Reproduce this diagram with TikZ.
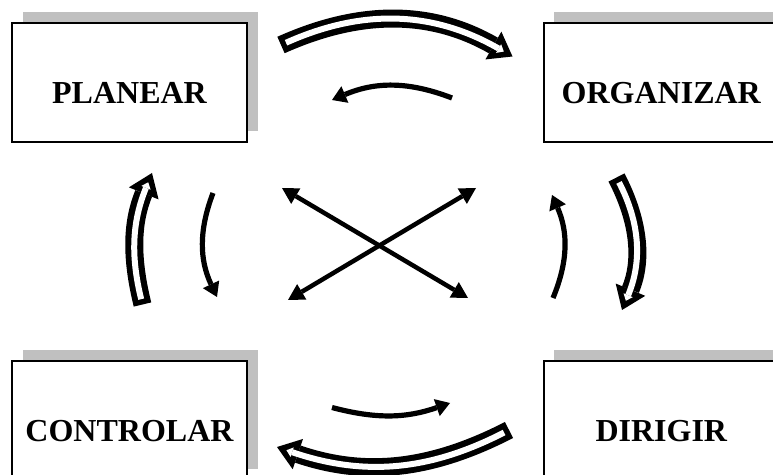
\documentclass[tikz,border=0pt]{standalone}
\usepackage{fontspec}
\setmainfont{Liberation Serif}
\usetikzlibrary{positioning, arrows.meta, shadows}
\definecolor{shadowgray}{RGB}{192,192,192}

\begin{document}
\begin{tikzpicture}[
    x=1pt, y=1pt,
    node distance=217pt and 295pt,
    box/.style={rectangle, draw=black, line width=1.8pt, fill=white, minimum width=235pt, minimum height=119pt, inner sep=0pt, text height=42pt, text depth=0pt, font=\fontsize{32}{36}\selectfont\bfseries, drop shadow={shadow xshift=10.5pt, shadow yshift=11pt, fill=shadowgray, opacity=1}},
    hollowarrow/.style={line width=18pt, -{Triangle[length=22pt, width=32pt, line width=0pt]}, postaction={draw=white, line width=6pt, shorten <=5.5pt, shorten >=10pt, -{Triangle[length=6pt, width=10pt, line width=0pt]}}},
    solidarrow/.style={line width=5.2pt, -{Triangle[length=14pt, width=18pt, line width=0pt]}},
    crossarrow/.style={line width=4.5pt, {Triangle[length=16pt, width=18pt, line width=0pt]}-{Triangle[length=16pt, width=18pt, line width=0pt]}}
]
    \useasboundingbox (0,0) rectangle (773,474);

    % the four boxes
    \node[box] (plan) at (129.5,391.5) {PLANEAR};
    \node[box, right=of plan] (org) {ORGANIZAR};
    \node[box, below=of plan] (ctrl) {CONTROLAR};
    \node[box, below=of org] (dir) {DIRIGIR};

    % end points of the arrows
    \coordinate (po1) at (281,429);
    \coordinate (po2) at (512.5,417.5);
    \coordinate (op1) at (452,376);
    \coordinate (op2) at (332,374);
    \coordinate (od1) at (616.5,296.5);
    \coordinate (od2) at (622,164);
    \coordinate (do1) at (553,176);
    \coordinate (do2) at (552,279);
    \coordinate (dc1) at (509,44);
    \coordinate (dc2) at (277,27);
    \coordinate (cd1) at (332,66.5);
    \coordinate (cd2) at (450,71);
    \coordinate (cp1) at (142.5,169.5);
    \coordinate (cp2) at (152,301);
    \coordinate (pc1) at (213,281);
    \coordinate (pc2) at (217,177);
    \coordinate (pd1) at (282,286);
    \coordinate (pd2) at (468,176);
    \coordinate (co1) at (288,174);
    \coordinate (co2) at (476,286);

    \draw[hollowarrow] (po1) to[bend left=27] (po2);
    \draw[solidarrow] (op1) to[bend right=22] (op2);
    \draw[hollowarrow] (od1) to[bend left=25] (od2);
    \draw[solidarrow] (do1) to[bend right=23] (do2);
    \draw[hollowarrow] (dc1) to[bend left=23] (dc2);
    \draw[solidarrow] (cd1) to[bend right=17] (cd2);
    \draw[hollowarrow] (cp1) to[bend left=18] (cp2);
    \draw[solidarrow] (pc1) to[bend right=23] (pc2);
    \draw[crossarrow] (pd1) -- (pd2);
    \draw[crossarrow] (co1) -- (co2);
\end{tikzpicture}
\end{document}
